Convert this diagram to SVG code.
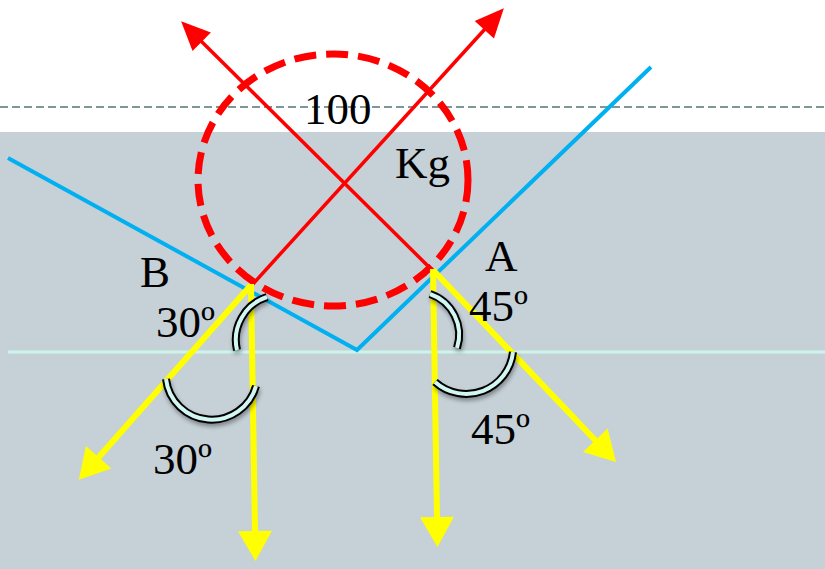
<svg xmlns="http://www.w3.org/2000/svg" width="825" height="569" viewBox="0 0 825 569">
<style>
.lbl{font-family:"Liberation Serif","Times New Roman",serif;font-size:45px;fill:#000}
.red{stroke:#FF0000;stroke-width:3.5;fill:none}
.yel{stroke:#FFFF00;stroke-width:6;fill:none}
.arcO{stroke:#000;stroke-width:8;fill:none;stroke-linecap:butt}
.arcI{stroke:#D2F6F2;stroke-width:4;fill:none;stroke-linecap:butt}
</style>
<defs>
<marker id="ar" markerUnits="userSpaceOnUse" markerWidth="32" markerHeight="28" refX="1" refY="13" orient="auto" overflow="visible"><path d="M0,0 L29,13 L0,26 z" fill="#FF0000"/></marker>
<marker id="ay" markerUnits="userSpaceOnUse" markerWidth="34" markerHeight="36" refX="1" refY="17" orient="auto" overflow="visible"><path d="M0,0 L30,17 L0,34 z" fill="#FFFF00"/></marker>
<filter id="sh" x="-30%" y="-30%" width="160%" height="160%"><feDropShadow dx="1" dy="3" stdDeviation="2" flood-color="#000" flood-opacity="0.35"/></filter>
</defs>
<rect x="0" y="0" width="825" height="569" fill="#FFFFFF"/>
<rect x="0" y="132" width="825" height="437" fill="#C5D0D7"/>
<line x1="0" y1="107" x2="825" y2="107" stroke="#7F9696" stroke-width="2" stroke-dasharray="8,4"/>
<g id="connectors">
<line x1="8" y1="352" x2="825" y2="352" stroke="#CCF5EA" stroke-width="3"/>
<polyline points="8,158 357,350 651,67" fill="none" stroke="#00B0F0" stroke-width="4"/>
<g id="weight">
<ellipse cx="333" cy="180" rx="135" ry="126" fill="none" stroke="#FF0000" stroke-width="7" stroke-dasharray="22,10"/>
</g>
<line class="red" x1="432" y1="270" x2="201" y2="41" marker-end="url(#ar)"/>
<line class="red" x1="252" y1="285" x2="485" y2="29" marker-end="url(#ar)"/>
<line class="yel" x1="251" y1="284" x2="255" y2="532" marker-end="url(#ay)"/>
<line class="yel" x1="251" y1="285" x2="98" y2="458" marker-end="url(#ay)"/>
<line class="yel" x1="433" y1="269" x2="437" y2="518" marker-end="url(#ay)"/>
<line class="yel" x1="433" y1="270" x2="596" y2="441" marker-end="url(#ay)"/>
</g>
<g id="angles" filter="url(#sh)">
<path class="arcO" d="M267,297 A45,45 0 0 0 237,350"/>
<path class="arcI" d="M267,297 A45,45 0 0 0 237,350"/>
<path class="arcO" d="M166,379 A46,46 0 0 0 256,386"/>
<path class="arcI" d="M166,379 A46,46 0 0 0 256,386"/>
<path class="arcO" d="M430,294 A43,43 0 0 1 457,348"/>
<path class="arcI" d="M430,294 A43,43 0 0 1 457,348"/>
<path class="arcO" d="M435,382 A47,47 0 0 0 513,352"/>
<path class="arcI" d="M435,382 A47,47 0 0 0 513,352"/>
</g>
<g id="labels">
<text class="lbl" x="304" y="124">100</text>
<text class="lbl" x="395" y="178">Kg</text>
<text class="lbl" x="140" y="287">B</text>
<text class="lbl" x="485" y="271">A</text>
<text class="lbl" x="156" y="337">30º</text>
<text class="lbl" x="469" y="321">45º</text>
<text class="lbl" x="153" y="474">30º</text>
<text class="lbl" x="471" y="444">45º</text>
</g>
</svg>
